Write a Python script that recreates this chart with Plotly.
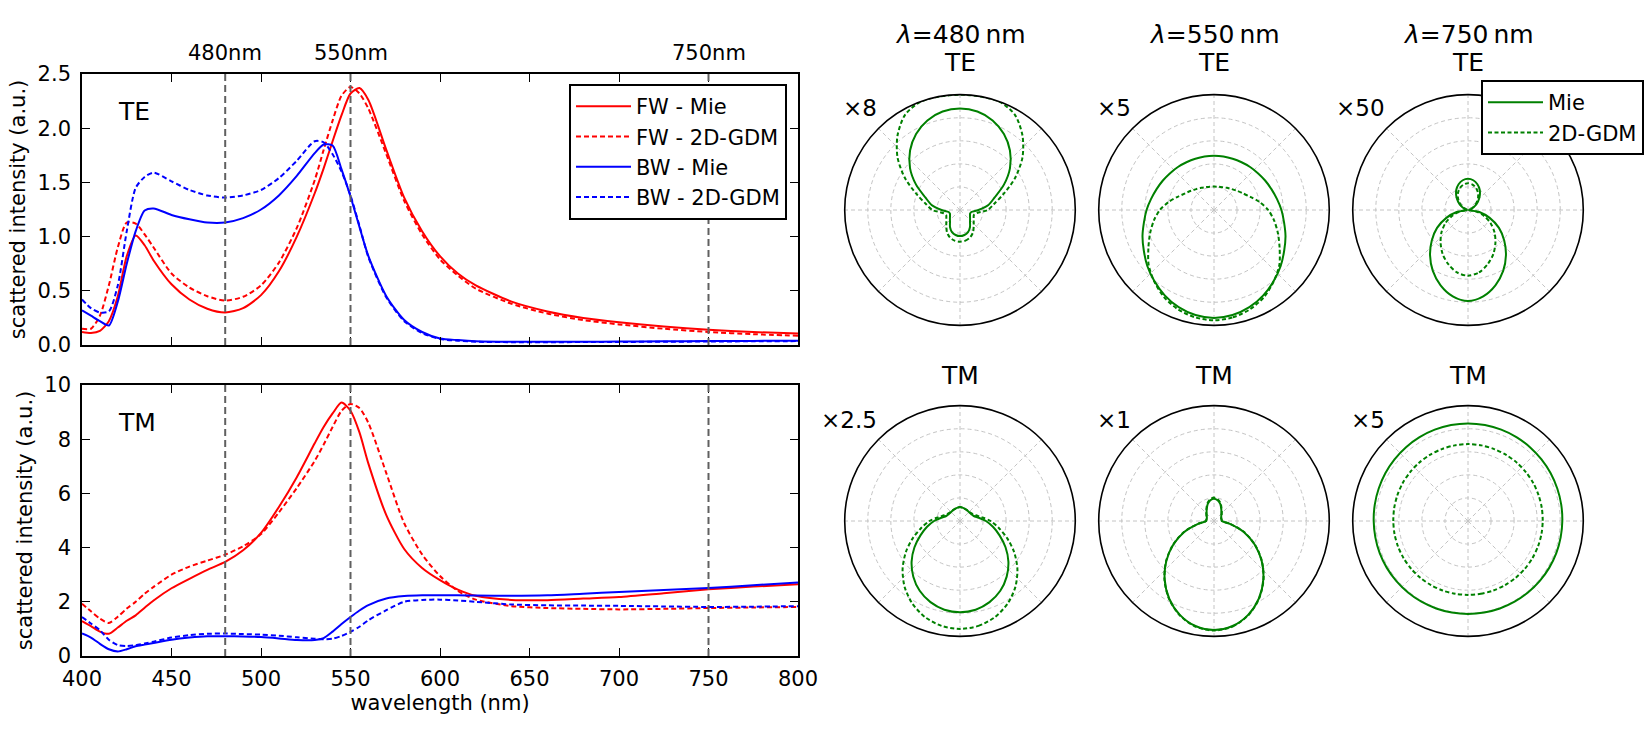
import plotly.graph_objects as go

# ---------------- data: spectra ----------------
wavelength = [400, 405, 410, 415, 420, 425, 430, 435, 440, 450, 460, 470, 480, 490, 500,
              510, 520, 530, 535, 540, 545, 550, 555, 560, 570, 580, 590, 600, 610, 620,
              640, 660, 680, 700, 725, 750, 775, 800]

te_fw_mie = [0.12, 0.11, 0.13, 0.22, 0.45, 0.82, 1.01, 0.92, 0.78, 0.56, 0.42, 0.335, 0.30, 0.34, 0.46,
             0.68, 1.00, 1.40, 1.63, 1.88, 2.12, 2.32, 2.37, 2.26, 1.80, 1.36, 1.05, 0.82, 0.66, 0.55,
             0.40, 0.31, 0.25, 0.21, 0.17, 0.14, 0.12, 0.105]
te_fw_gdm = [0.15, 0.15, 0.27, 0.55, 0.90, 1.13, 1.12, 1.02, 0.90, 0.66, 0.53, 0.45, 0.41, 0.445, 0.55,
             0.76, 1.08, 1.52, 1.80, 2.07, 2.30, 2.38, 2.32, 2.18, 1.76, 1.33, 1.02, 0.79, 0.64, 0.52,
             0.38, 0.29, 0.23, 0.19, 0.15, 0.12, 0.10, 0.085]
te_bw_mie = [0.32, 0.27, 0.22, 0.18, 0.40, 0.75, 1.05, 1.24, 1.26, 1.20, 1.16, 1.13, 1.13, 1.17, 1.25,
             1.38, 1.56, 1.77, 1.85, 1.84, 1.62, 1.37, 1.09, 0.82, 0.45, 0.23, 0.12, 0.06, 0.045, 0.035,
             0.03, 0.03, 0.03, 0.032, 0.034, 0.036, 0.038, 0.04]
te_bw_gdm = [0.42, 0.34, 0.30, 0.31, 0.55, 1.05, 1.45, 1.55, 1.59, 1.51, 1.43, 1.38, 1.36, 1.38, 1.43,
             1.54, 1.70, 1.88, 1.87, 1.76, 1.60, 1.38, 1.10, 0.81, 0.44, 0.22, 0.11, 0.055, 0.04, 0.03,
             0.026, 0.026, 0.027, 0.028, 0.03, 0.032, 0.034, 0.036]

tm_fw_mie = [1.29, 1.10, 0.90, 0.82, 1.05, 1.30, 1.50, 1.78, 2.05, 2.50, 2.85, 3.18, 3.47, 3.90, 4.54,
             5.50, 6.60, 7.85, 8.45, 8.95, 9.35, 9.05, 8.25, 7.10, 5.20, 3.95, 3.25, 2.80, 2.45, 2.22,
             2.07, 2.06, 2.12, 2.18, 2.32, 2.46, 2.56, 2.65]
tm_fw_gdm = [1.93, 1.65, 1.38, 1.22, 1.45, 1.75, 2.00, 2.30, 2.55, 3.00, 3.30, 3.52, 3.74, 4.05, 4.50,
             5.30, 6.20, 7.20, 7.80, 8.45, 9.05, 9.30, 9.15, 8.60, 6.75, 4.90, 3.75, 2.95, 2.40, 2.08,
             1.84, 1.77, 1.74, 1.72, 1.74, 1.77, 1.79, 1.81]
tm_bw_mie = [0.83, 0.68, 0.45, 0.25, 0.17, 0.25, 0.36, 0.42, 0.48, 0.60, 0.68, 0.73, 0.73, 0.72, 0.70,
             0.65, 0.59, 0.59, 0.66, 0.90, 1.18, 1.44, 1.68, 1.88, 2.12, 2.21, 2.24, 2.24, 2.24, 2.23,
             2.22, 2.24, 2.30, 2.36, 2.44, 2.51, 2.61, 2.71]
tm_bw_gdm = [1.44, 1.20, 0.95, 0.60, 0.40, 0.37, 0.40, 0.46, 0.53, 0.68, 0.77, 0.82, 0.83, 0.81, 0.79,
             0.75, 0.69, 0.64, 0.62, 0.64, 0.74, 0.89, 1.08, 1.32, 1.69, 2.00, 2.07, 2.08, 2.05, 2.00,
             1.90, 1.87, 1.86, 1.85, 1.83, 1.81, 1.82, 1.84]

marked_wavelengths = [480, 550, 750]
marked_labels = ["480nm", "550nm", "750nm"]

te_ticks = [0.0, 0.5, 1.0, 1.5, 2.0, 2.5]
tm_ticks = [0, 2, 4, 6, 8, 10]
wl_ticks = [400, 450, 500, 550, 600, 650, 700, 750, 800]

# ---------------- data: radiation patterns (0 deg = forward = down, 180 = backward = up) ----------------
theta_half = [0, 10, 20, 30, 40, 50, 60, 70, 80, 90, 100, 110, 120, 130, 140, 150, 160, 170, 180]

te480_mie = [0.226, 0.220, 0.204, 0.173, 0.135, 0.114, 0.100, 0.093, 0.100, 0.16, 0.25, 0.32, 0.44,
             0.566, 0.674, 0.762, 0.827, 0.867, 0.88]
te480_gdm = [0.275, 0.270, 0.254, 0.225, 0.185, 0.155, 0.137, 0.128, 0.15, 0.24, 0.30, 0.40, 0.55,
             0.707, 0.843, 0.953, 1.0, 1.0, 1.0]
te550_mie = [0.936, 0.925, 0.897, 0.855, 0.805, 0.755, 0.703, 0.66, 0.617, 0.585, 0.554, 0.53, 0.512,
             0.497, 0.487, 0.478, 0.473, 0.471, 0.47]
te550_gdm = [0.957, 0.945, 0.916, 0.87, 0.807, 0.74, 0.657, 0.59, 0.53, 0.47, 0.40, 0.335, 0.289,
             0.26, 0.237, 0.222, 0.211, 0.205, 0.203]
te750_mie = [0.79, 0.76, 0.695, 0.61, 0.512, 0.41, 0.31, 0.20, 0.10, 0.01, 0.01, 0.032, 0.068,
             0.112, 0.158, 0.203, 0.238, 0.262, 0.27]
te750_gdm = [0.57, 0.55, 0.50, 0.44, 0.37, 0.30, 0.225, 0.145, 0.07, 0.01, 0.006, 0.027, 0.058,
             0.096, 0.135, 0.173, 0.204, 0.224, 0.232]
tm480_mie = [0.791, 0.781, 0.749, 0.699, 0.630, 0.548, 0.456, 0.365, 0.29, 0.225, 0.165, 0.127, 0.115,
             0.11, 0.11, 0.112, 0.115, 0.118, 0.122]
tm480_gdm = [0.936, 0.924, 0.887, 0.827, 0.747, 0.650, 0.543, 0.435, 0.34, 0.265, 0.19, 0.145, 0.125,
             0.115, 0.112, 0.112, 0.115, 0.118, 0.122]
tm550_mie = [0.945, 0.925, 0.866, 0.777, 0.665, 0.54, 0.407, 0.272, 0.14, 0.068, 0.066, 0.066, 0.072,
             0.083, 0.10, 0.125, 0.158, 0.182, 0.194]
tm550_gdm = [0.95, 0.93, 0.87, 0.78, 0.668, 0.543, 0.41, 0.275, 0.14, 0.07, 0.068, 0.068, 0.075,
             0.087, 0.105, 0.13, 0.165, 0.19, 0.203]
tm750_mie = [0.806, 0.806, 0.807, 0.808, 0.809, 0.811, 0.813, 0.815, 0.816, 0.818, 0.821, 0.824, 0.828,
             0.832, 0.836, 0.840, 0.843, 0.845, 0.846]
tm750_gdm = [0.641, 0.641, 0.642, 0.642, 0.643, 0.644, 0.645, 0.646, 0.647, 0.648, 0.650, 0.652, 0.655,
             0.657, 0.660, 0.662, 0.664, 0.666, 0.667]

polar_titles = ["<i>λ</i>=480\u2009nm", "<i>λ</i>=550\u2009nm", "<i>λ</i>=750\u2009nm"]
te_scales = ["×8", "×5", "×50"]
tm_scales = ["×2.5", "×1", "×5"]

# ---------------- figure ----------------
W, H = 1650, 750
FONT = "DejaVu Sans"
FS = 21
RED, BLUE, GREEN = "#ff0000", "#0000ff", "#008000"
CURVE_DASH = "5px,3px"


def px_x(v):
    return v / W


def px_y(v):
    return 1 - v / H


fig = go.Figure()

series = [
    ("FW - Mie", te_fw_mie, tm_fw_mie, RED, "solid"),
    ("FW - 2D-GDM", te_fw_gdm, tm_fw_gdm, RED, CURVE_DASH),
    ("BW - Mie", te_bw_mie, tm_bw_mie, BLUE, "solid"),
    ("BW - 2D-GDM", te_bw_gdm, tm_bw_gdm, BLUE, CURVE_DASH),
]
for k, (name, te, tm, col, dash) in enumerate(series):
    fig.add_trace(go.Scatter(x=wavelength, y=te, name=name, mode="lines", legendgroup=f"g{k}",
                             line=dict(color=col, width=2, dash=dash, shape="spline", smoothing=0.7),
                             xaxis="x", yaxis="y", legend="legend"))
    fig.add_trace(go.Scatter(x=wavelength, y=tm, name=name, mode="lines", showlegend=False,
                             legendgroup=f"g{k}",
                             line=dict(color=col, width=2, dash=dash, shape="spline", smoothing=0.7),
                             xaxis="x2", yaxis="y2"))


def mirror(theta, r):
    th = list(theta) + [360 - t for t in theta[-2::-1]]
    rr = list(r) + list(r[-2::-1])
    return th, rr


polar_panels = [
    (960, 210, te480_mie, te480_gdm),
    (1214, 210, te550_mie, te550_gdm),
    (1468, 210, te750_mie, te750_gdm),
    (960, 521, tm480_mie, tm480_gdm),
    (1214, 521, tm550_mie, tm550_gdm),
    (1468, 521, tm750_mie, tm750_gdm),
]
R = 115.3
polar_layouts = {}
for i, (cx, cy, mie, gdm) in enumerate(polar_panels):
    pname = "polar" if i == 0 else f"polar{i + 1}"
    th, r = mirror(theta_half, mie)
    fig.add_trace(go.Scatterpolar(theta=th, r=r, mode="lines", name="Mie", subplot=pname,
                                  legendgroup="p1",
                                  line=dict(color=GREEN, width=2, shape="spline", smoothing=0.8),
                                  showlegend=(i == 0), legend="legend2"))
    th, r = mirror(theta_half, gdm)
    fig.add_trace(go.Scatterpolar(theta=th, r=r, mode="lines", name="2D-GDM", subplot=pname,
                                  legendgroup="p2",
                                  line=dict(color=GREEN, width=2, dash="4px,2.5px", shape="spline",
                                            smoothing=0.8),
                                  showlegend=(i == 0), legend="legend2"))
    polar_layouts[pname] = dict(
        domain=dict(x=[px_x(cx - R), px_x(cx + R)], y=[px_y(cy + R), px_y(cy - R)]),
        bgcolor="white",
        radialaxis=dict(range=[0, 1], tickvals=[0.2, 0.4, 0.6, 0.8], showticklabels=False, ticks="",
                        showline=False, gridcolor="#c4c4c4", griddash="4px,3px", gridwidth=1),
        angularaxis=dict(rotation=-90, direction="counterclockwise", tickmode="linear", tick0=0,
                         dtick=45, showticklabels=False, ticks="", showline=True, linecolor="black",
                         linewidth=1.6, gridcolor="#c4c4c4", griddash="4px,3px", gridwidth=1),
    )

axis_common = dict(showline=True, linecolor="black", linewidth=1.6, mirror="ticks", ticks="inside",
                   ticklen=8, tickwidth=1.3, tickcolor="black", showgrid=False, zeroline=False,
                   automargin=False,
                   tickfont=dict(family=FONT, size=FS, color="black"))

x_dom = [px_x(82), px_x(798)]
layout = dict(
    width=W, height=H,
    margin=dict(l=0, r=0, t=0, b=0, autoexpand=False),
    paper_bgcolor="white", plot_bgcolor="white",
    font=dict(family=FONT, size=FS, color="black"),
    xaxis=dict(domain=x_dom, range=[400, 800], tickvals=wl_ticks, showticklabels=False,
               anchor="y", **axis_common),
    yaxis=dict(domain=[px_y(345), px_y(74)], range=[0, 2.5], tickvals=te_ticks, tickformat=".1f",
               anchor="x", ticklabelstandoff=5,
               title=dict(text="scattered intensity (a.u.)", font=dict(size=FS), standoff=6),
               **axis_common),
    xaxis2=dict(domain=x_dom, range=[400, 800], tickvals=wl_ticks, anchor="y2", ticklabelstandoff=3,
                title=dict(text="wavelength (nm)", font=dict(size=FS), standoff=2),
                **axis_common),
    yaxis2=dict(domain=[px_y(656), px_y(385)], range=[0, 10], tickvals=tm_ticks, anchor="x2",
                ticklabelstandoff=5,
                title=dict(text="scattered intensity (a.u.)", font=dict(size=FS), standoff=6),
                **axis_common),
    legend=dict(x=px_x(569), y=px_y(84), xanchor="left", yanchor="top", bgcolor="white",
                bordercolor="black", borderwidth=2, font=dict(family=FONT, size=FS),
                itemwidth=55, tracegroupgap=0),
    legend2=dict(x=px_x(1481), y=px_y(80), xanchor="left", yanchor="top", bgcolor="white",
                 bordercolor="black", borderwidth=2, font=dict(family=FONT, size=FS),
                 itemwidth=55, tracegroupgap=0),
    showlegend=True,
)
layout.update(polar_layouts)
fig.update_layout(**layout)

shapes = []
for xr in ["x", "x2"]:
    yr = "y domain" if xr == "x" else "y2 domain"
    for wl in marked_wavelengths:
        shapes.append(dict(type="line", xref=xr, yref=yr, x0=wl, x1=wl, y0=0, y1=1,
                           line=dict(color="#606060", width=2, dash="7px,4px"), layer="above"))
fig.update_layout(shapes=shapes)

ann = []
for wl, lab in zip(marked_wavelengths, marked_labels):
    ann.append(dict(x=wl, y=px_y(53), xref="x", yref="paper", text=lab, showarrow=False,
                    font=dict(size=FS), xanchor="center", yanchor="middle"))
ann.append(dict(x=px_x(116), y=px_y(112), xref="paper", yref="paper", text="TE", showarrow=False,
                font=dict(size=25), xanchor="left", yanchor="middle"))
ann.append(dict(x=px_x(116), y=px_y(423), xref="paper", yref="paper", text="TM", showarrow=False,
                font=dict(size=25), xanchor="left", yanchor="middle"))
centers_x = [960, 1214, 1468]
for cx, t, s_te, s_tm in zip(centers_x, polar_titles, te_scales, tm_scales):
    ann.append(dict(x=px_x(cx), y=px_y(35), xref="paper", yref="paper", text=t, showarrow=False,
                    font=dict(size=25), xanchor="center", yanchor="middle"))
    ann.append(dict(x=px_x(cx), y=px_y(63), xref="paper", yref="paper", text="TE", showarrow=False,
                    font=dict(size=25), xanchor="center", yanchor="middle"))
    ann.append(dict(x=px_x(cx), y=px_y(375), xref="paper", yref="paper", text="TM", showarrow=False,
                    font=dict(size=25), xanchor="center", yanchor="middle"))
    ann.append(dict(x=px_x(cx - 81), y=px_y(108), xref="paper", yref="paper", text=s_te,
                    showarrow=False, font=dict(size=23), xanchor="right", yanchor="middle"))
    ann.append(dict(x=px_x(cx - 81), y=px_y(420), xref="paper", yref="paper", text=s_tm,
                    showarrow=False, font=dict(size=23), xanchor="right", yanchor="middle"))
fig.update_layout(annotations=ann)

fig.write_html("out.html")
